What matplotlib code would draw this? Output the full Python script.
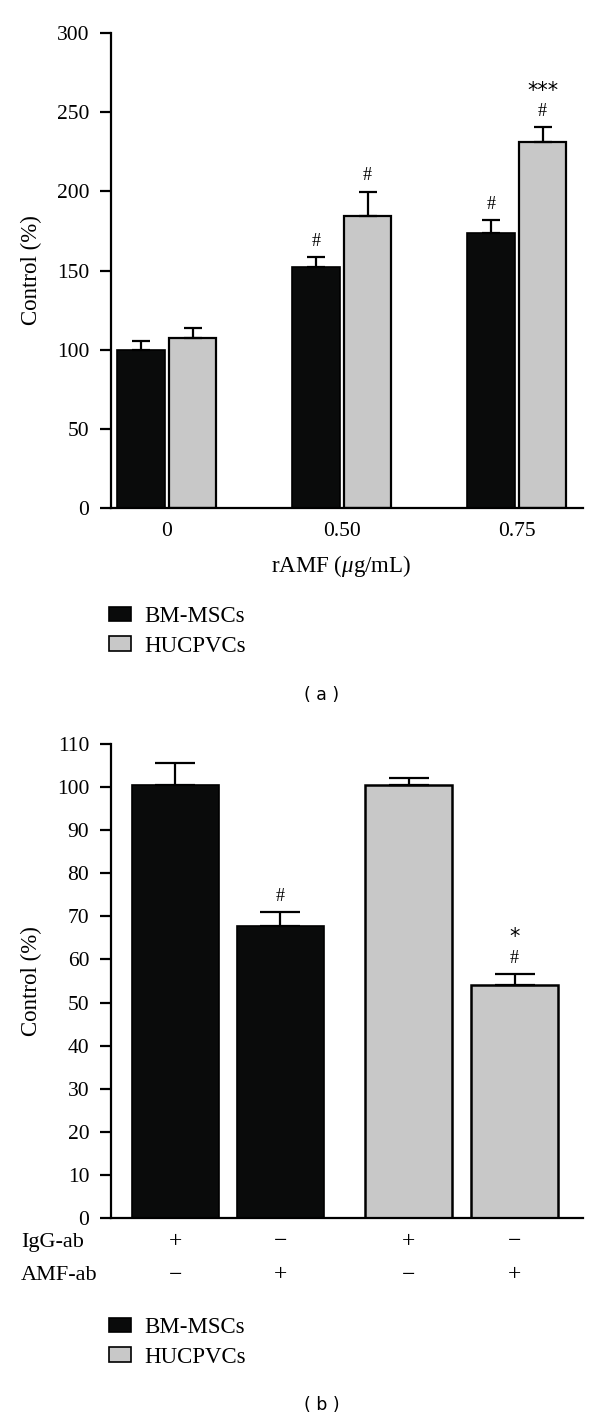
import matplotlib
matplotlib.use('Agg')
import matplotlib.pyplot as plt
from matplotlib.patches import Patch
from matplotlib.transforms import blended_transform_factory
import numpy as np

plt.rcParams['font.family'] = ['Liberation Serif', 'DejaVu Serif']
plt.rcParams['mathtext.fontset'] = 'custom'
plt.rcParams['mathtext.it'] = 'Liberation Serif:italic'

# ---------------- data ----------------
# panel (a)
doses = ['0', '0.50', '0.75']
bm_a = [100.0, 152.4, 173.7]
bm_a_err = [5.3, 6.1, 8.2]
huc_a = [107.2, 184.4, 231.2]
huc_a_err = [6.8, 15.4, 9.4]
sig_a_bm = ['', '#', '#']
sig_a_huc = ['', '#', '#']
star_a_huc = ['', '', '***']

# panel (b)
igg_ab = ['+', '\u2212', '+', '\u2212']
amf_ab = ['\u2212', '+', '\u2212', '+']
vals_b = [100.5, 67.7, 100.5, 54.1]
err_b = [5.2, 3.2, 1.5, 2.5]
cells_b = ['BM-MSCs', 'BM-MSCs', 'HUCPVCs', 'HUCPVCs']
sig_b = ['', '#', '', '#']
star_b = ['', '', '', '*']

series = ['BM-MSCs', 'HUCPVCs']
colors = {'BM-MSCs': '#0a0b0b', 'HUCPVCs': '#c8c8c8'}

# ---------------- figure ----------------
W, H = 600, 1421
fig = plt.figure(figsize=(W / 100, H / 100), dpi=100)

TICK_FS = 15.5
LAB_FS = 16.5


def px_axes(l, t, r, b):
    return fig.add_axes([l / W, 1 - b / H, (r - l) / W, (b - t) / H])


def style(ax):
    for s in ['top', 'right']:
        ax.spines[s].set_visible(False)
    for s in ['left', 'bottom']:
        ax.spines[s].set_linewidth(1.6)
    ax.tick_params(axis='y', direction='out', length=8.2, width=1.6,
                   labelsize=TICK_FS, pad=7.5)
    ax.tick_params(axis='x', length=0, labelsize=TICK_FS, pad=10)


# ---- panel (a)
ax1 = px_axes(111, 33, 583, 508)
style(ax1)
x = np.arange(len(doses))
bw = 0.27
off = 0.147
ax1.bar(x - off, bm_a, width=bw, color=colors['BM-MSCs'], edgecolor='black',
        linewidth=1.2, zorder=2)
ax1.bar(x + off, huc_a, width=bw, color=colors['HUCPVCs'], edgecolor='black',
        linewidth=1.6, zorder=2)
ax1.errorbar(x - off, bm_a, yerr=[np.zeros(len(x)), bm_a_err], fmt='none',
             ecolor='black', elinewidth=1.6, capsize=6.7, capthick=1.6, zorder=3)
ax1.errorbar(x + off, huc_a, yerr=[np.zeros(len(x)), huc_a_err], fmt='none',
             ecolor='black', elinewidth=1.6, capsize=6.7, capthick=1.6, zorder=3)
for i in range(len(x)):
    for xs, v, e, s in [(x[i] - off, bm_a[i], bm_a_err[i], sig_a_bm[i]),
                        (x[i] + off, huc_a[i], huc_a_err[i], sig_a_huc[i])]:
        if s:
            ax1.annotate(s, (xs, v + e), xytext=(0, 11.5), textcoords='offset points',
                         ha='center', va='center', fontsize=13)
    if star_a_huc[i]:
        ax1.annotate(star_a_huc[i], (x[i] + off, huc_a[i] + huc_a_err[i]),
                     xytext=(0, 26), textcoords='offset points',
                     ha='center', va='center', fontsize=15,
                     family='DejaVu Sans')
ax1.set_ylim(0, 300)
ax1.set_yticks(np.arange(0, 301, 50))
ax1.set_xlim(-0.319, 2.378)
ax1.set_xticks(x)
ax1.set_xticklabels(doses)
fig.text(341 / W, 1 - 566 / H, 'rAMF ($\\mathit{\\mu}$g/mL)', ha='center',
         va='center', fontsize=LAB_FS)
fig.text(31.5 / W, 1 - 270.5 / H, 'Control (%)', rotation=90, ha='center',
         va='center', fontsize=LAB_FS)

leg_handles = [Patch(facecolor=colors[s], edgecolor='black', linewidth=1.2,
                     label=s) for s in series]


def add_legend(ycenter):
    fig.legend(handles=leg_handles, loc='center left',
               bbox_to_anchor=(109 / W, 1 - ycenter / H), frameon=False,
               fontsize=LAB_FS, handlelength=0.98, handleheight=0.58,
               handletextpad=0.55, labelspacing=0.36, borderpad=0,
               borderaxespad=0)


add_legend(631.5)
fig.text(322 / W, 1 - 695 / H, '( a )', ha='center', va='center',
         fontsize=12.5, family='DejaVu Sans')

# ---- panel (b)
ax2 = px_axes(111, 744, 583, 1218)
style(ax2)
pos_b = np.array([0, 1, 2.22, 3.23])
for p, v, c in zip(pos_b, vals_b, cells_b):
    ax2.bar(p, v, width=0.83, color=colors[c], edgecolor='black',
            linewidth=1.2 if c == 'BM-MSCs' else 1.8, zorder=2)
ax2.errorbar(pos_b, vals_b, yerr=[np.zeros(len(pos_b)), err_b], fmt='none',
             ecolor='black', elinewidth=1.6, capsize=14.5, capthick=1.6, zorder=3)
for p, v, e, s, st in zip(pos_b, vals_b, err_b, sig_b, star_b):
    if s:
        ax2.annotate(s, (p, v + e), xytext=(0, 11.5), textcoords='offset points',
                     ha='center', va='center', fontsize=13)
    if st:
        ax2.annotate(st, (p, v + e), xytext=(0, 27), textcoords='offset points',
                     ha='center', va='center', fontsize=15,
                     family='DejaVu Sans')
ax2.set_ylim(0, 110)
ax2.set_yticks(np.arange(0, 111, 10))
ax2.set_xlim(-0.614, 3.881)
ax2.set_xticks([])
tr = blended_transform_factory(ax2.transData, fig.transFigure)
for p, g, a in zip(pos_b, igg_ab, amf_ab):
    ax2.text(p, 1 - 1242 / H, g, transform=tr, ha='center', va='center',
             fontsize=17)
    ax2.text(p, 1 - 1275 / H, a, transform=tr, ha='center', va='center',
             fontsize=17)
fig.text(21 / W, 1 - 1242 / H, 'IgG-ab', ha='left', va='center', fontsize=16)
fig.text(21 / W, 1 - 1275 / H, 'AMF-ab', ha='left', va='center', fontsize=16)
fig.text(31.5 / W, 1 - 981 / H, 'Control (%)', rotation=90, ha='center',
         va='center', fontsize=LAB_FS)
add_legend(1342.5)
fig.text(322 / W, 1 - 1405 / H, '( b )', ha='center', va='center',
         fontsize=12.5, family='DejaVu Sans')

fig.savefig('out.png', dpi=100)
